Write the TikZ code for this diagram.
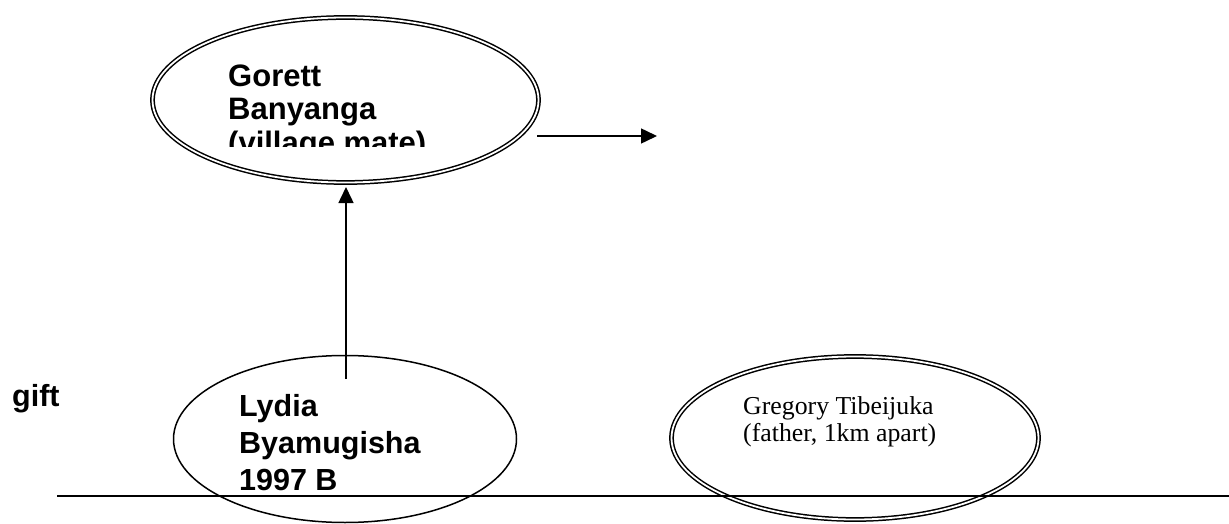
\documentclass[tikz,border=0pt]{standalone}
\usepackage{fontspec}
\setmainfont{Liberation Serif}
\setsansfont{Liberation Sans}
\usetikzlibrary{shapes.geometric, arrows.meta}

\begin{document}
\begin{tikzpicture}[x=1pt, y=-1pt,
  boldtext/.style={font=\sffamily\bfseries\fontsize{31}{34}\selectfont, anchor=base west, inner sep=0pt},
  boldlow/.style={font=\sffamily\bfseries\fontsize{30.5}{34}\selectfont, anchor=base west, inner sep=0pt},
  serifnote/.style={font=\fontsize{25.8}{27}\selectfont, anchor=base west, inner sep=0pt},
  plainoval/.style={ellipse, draw, line width=1.5pt, inner sep=0pt},
  doubleoval/.style={ellipse, draw, double, line width=1.5pt, double distance=1.8pt, inner sep=0pt},
  link/.style={line width=1.5pt, -{Triangle[length=16pt, width=15pt]}},
  rule/.style={line width=1.5pt}]

  \useasboundingbox (0,0) rectangle (1229,524);

  % ovals
  \node[doubleoval, minimum width=386pt, minimum height=165pt] (gorett) at (345.5,100) {};
  \node[plainoval, minimum width=343pt, minimum height=167pt] (lydia) at (345,439) {};
  \node[doubleoval, minimum width=367pt, minimum height=163pt] (gregory) at (855,438) {};

  % text of the upper oval, cut off along the bottom of its box
  \begin{scope}
    \clip (150,0) rectangle (545,147);
    \node[boldtext] (gor1) at (228,86.7) {Gorett};
    \node[boldtext] (gor2) at (228,120) {Banyanga};
    \node[boldtext] (gor3) at (228,153.3) {(village mate)};
  \end{scope}

  % text of the lower oval
  \node[boldlow] (lyd1) at (239,416.7) {Lydia};
  \node[boldlow] (lyd2) at (239,453.3) {Byamugisha};
  \node[boldlow] (lyd3) at (239,490.7) {1997 B};

  % text of the right oval
  \node[serifnote] (greg1) at (743,414.3) {Gregory Tibeijuka};
  \node[serifnote] (greg2) at (743,441) {(father, 1km apart)};

  % side label
  \node[boldlow] (gift) at (12,406) {gift};

  % connectors
  \coordinate (upfrom) at (346,379);
  \coordinate (upto) at (346,187);
  \draw[link] (upfrom) -- (upto);

  \coordinate (rightfrom) at (537,136);
  \coordinate (rightto) at (657,136);
  \draw[link] (rightfrom) -- (rightto);

  % ground line
  \coordinate (groundleft) at (57,496);
  \coordinate (groundright) at (1229,496);
  \draw[rule] (groundleft) -- (groundright);
\end{tikzpicture}
\end{document}
